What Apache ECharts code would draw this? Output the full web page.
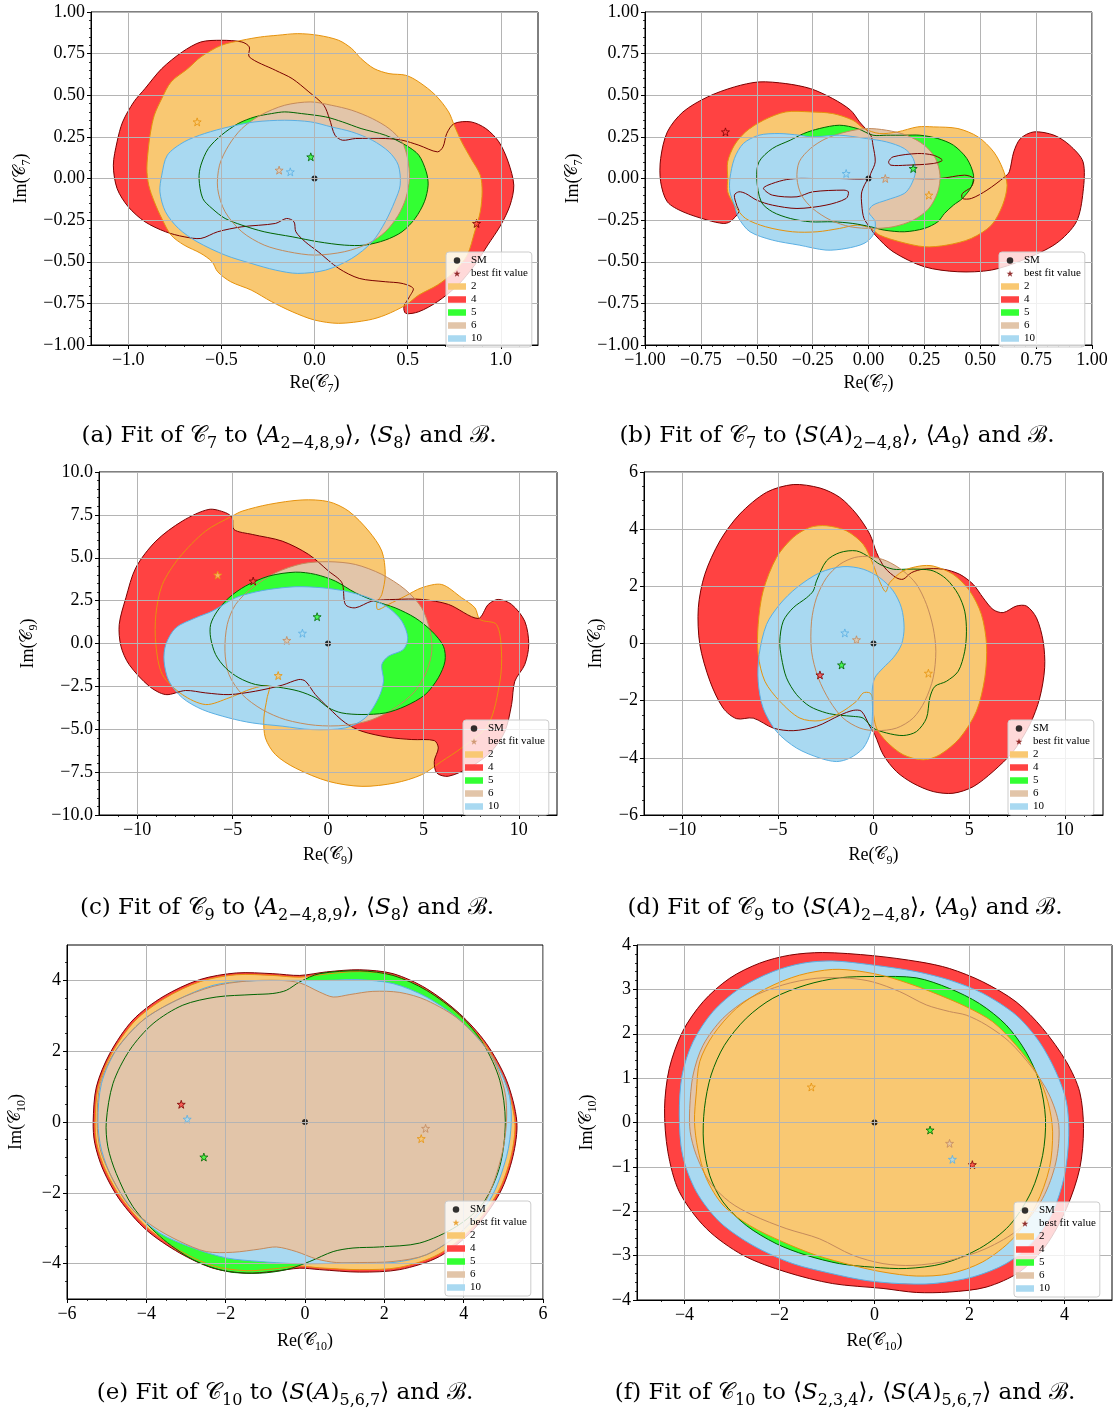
<!DOCTYPE html>
<html>
<head>
<meta charset="utf-8">
<script src="https://cdn.jsdelivr.net/npm/echarts@6/dist/echarts.min.js"></script>
<style>
  html, body { margin: 0; padding: 0; background: #ffffff; }
  #chart { width: 1116px; height: 1414px; }
</style>
</head>
<body>
<div id="chart"></div>
<script>
// ---- Confidence regions (boundary points, [Re, Im]) ----
// Panel (a): C7 fit to <A_{2-4,8,9}>, <S_8> and B
const A2 = [[-0.09,0.87],[0.02,0.86],[0.13,0.83],[0.20,0.78],[0.25,0.72],[0.32,0.66],[0.40,0.63],[0.49,0.62],[0.56,0.58],[0.65,0.50],[0.72,0.40],[0.75,0.32],[0.79,0.22],[0.84,0.12],[0.89,0.02],[0.90,-0.08],[0.89,-0.20],[0.86,-0.32],[0.82,-0.46],[0.75,-0.56],[0.66,-0.64],[0.56,-0.70],[0.49,-0.76],[0.38,-0.82],[0.29,-0.85],[0.13,-0.87],[0.00,-0.85],[-0.12,-0.80],[-0.23,-0.74],[-0.34,-0.67],[-0.45,-0.62],[-0.52,-0.56],[-0.55,-0.50],[-0.61,-0.45],[-0.70,-0.40],[-0.77,-0.34],[-0.82,-0.24],[-0.86,-0.14],[-0.89,-0.04],[-0.90,0.06],[-0.89,0.20],[-0.88,0.28],[-0.86,0.38],[-0.82,0.48],[-0.77,0.58],[-0.68,0.66],[-0.61,0.73],[-0.50,0.80],[-0.39,0.83],[-0.29,0.85],[-0.20,0.86]];
const A4 = [[-0.39,0.82],[-0.35,0.79],[-0.35,0.73],[-0.21,0.65],[-0.12,0.60],[-0.03,0.52],[0.05,0.44],[0.08,0.36],[0.11,0.26],[0.15,0.23],[0.22,0.24],[0.38,0.24],[0.47,0.23],[0.56,0.20],[0.66,0.16],[0.69,0.19],[0.71,0.27],[0.75,0.33],[0.84,0.34],[0.92,0.30],[0.99,0.22],[1.04,0.10],[1.07,-0.04],[1.05,-0.16],[1.00,-0.28],[0.93,-0.40],[0.86,-0.52],[0.77,-0.64],[0.66,-0.74],[0.56,-0.80],[0.49,-0.81],[0.48,-0.77],[0.51,-0.71],[0.53,-0.66],[0.47,-0.63],[0.38,-0.62],[0.24,-0.60],[0.13,-0.54],[0.02,-0.44],[-0.05,-0.38],[-0.10,-0.32],[-0.11,-0.26],[-0.15,-0.24],[-0.21,-0.27],[-0.39,-0.29],[-0.52,-0.32],[-0.61,-0.36],[-0.70,-0.35],[-0.80,-0.32],[-0.91,-0.26],[-1.00,-0.17],[-1.06,-0.06],[-1.08,0.08],[-1.06,0.22],[-1.03,0.34],[-0.97,0.46],[-0.91,0.54],[-0.82,0.66],[-0.71,0.76],[-0.61,0.82],[-0.50,0.83]];
const A5 = [[-0.23,0.39],[-0.16,0.40],[-0.07,0.39],[0.06,0.37],[0.15,0.34],[0.25,0.30],[0.38,0.26],[0.49,0.20],[0.56,0.14],[0.60,0.04],[0.61,-0.04],[0.59,-0.14],[0.54,-0.24],[0.47,-0.32],[0.38,-0.37],[0.27,-0.40],[0.16,-0.40],[0.02,-0.38],[-0.12,-0.35],[-0.27,-0.32],[-0.39,-0.28],[-0.48,-0.24],[-0.55,-0.18],[-0.60,-0.12],[-0.62,0.00],[-0.61,0.08],[-0.57,0.18],[-0.50,0.26],[-0.41,0.33],[-0.32,0.37]];
const A6 = [[-0.02,0.46],[0.09,0.44],[0.20,0.41],[0.31,0.36],[0.40,0.30],[0.47,0.22],[0.50,0.12],[0.51,0.00],[0.49,-0.12],[0.45,-0.22],[0.38,-0.32],[0.29,-0.39],[0.16,-0.44],[0.00,-0.46],[-0.14,-0.44],[-0.27,-0.40],[-0.39,-0.32],[-0.48,-0.20],[-0.52,-0.06],[-0.51,0.08],[-0.46,0.20],[-0.39,0.30],[-0.29,0.38],[-0.16,0.44]];
const A10 = [[-0.16,0.35],[-0.02,0.34],[0.09,0.31],[0.20,0.28],[0.31,0.23],[0.40,0.16],[0.45,0.08],[0.46,-0.04],[0.43,-0.14],[0.38,-0.26],[0.31,-0.38],[0.20,-0.48],[0.06,-0.55],[-0.09,-0.57],[-0.21,-0.55],[-0.34,-0.51],[-0.48,-0.46],[-0.63,-0.38],[-0.73,-0.30],[-0.80,-0.20],[-0.83,-0.08],[-0.82,0.02],[-0.79,0.14],[-0.70,0.22],[-0.59,0.27],[-0.46,0.31],[-0.32,0.34]];
const A_STARS = [['2',-0.63,0.34],['6',-0.19,0.05],['10',-0.13,0.04],['5',-0.02,0.13],['4',0.87,-0.27]];

// Panel (b): C7 fit to <S(A)_{2-4,8}>, <A_9> and B
const B2 = [[-0.63,0.00],[-0.63,0.10],[-0.60,0.20],[-0.55,0.28],[-0.47,0.35],[-0.37,0.40],[-0.26,0.40],[-0.16,0.39],[-0.07,0.35],[-0.02,0.30],[0.05,0.27],[0.13,0.28],[0.22,0.31],[0.29,0.31],[0.40,0.30],[0.49,0.25],[0.56,0.16],[0.60,0.06],[0.62,-0.04],[0.60,-0.16],[0.55,-0.28],[0.46,-0.36],[0.35,-0.40],[0.25,-0.41],[0.14,-0.38],[0.05,-0.34],[0.01,-0.30],[-0.05,-0.28],[-0.13,-0.30],[-0.23,-0.32],[-0.34,-0.32],[-0.46,-0.29],[-0.55,-0.24],[-0.60,-0.16],[-0.63,-0.08]];
const B4_UPPER = [[-0.58,-0.20],[-0.62,-0.26],[-0.65,-0.27],[-0.72,-0.25],[-0.83,-0.20],[-0.90,-0.14],[-0.93,-0.02],[-0.93,0.12],[-0.90,0.28],[-0.83,0.40],[-0.72,0.49],[-0.60,0.55],[-0.49,0.58],[-0.37,0.57],[-0.26,0.54],[-0.16,0.48],[-0.08,0.41],[-0.04,0.34],[0.01,0.26],[0.02,0.20],[0.03,0.10],[0.01,0.03],[0.00,0.00],[-0.13,0.00],[-0.25,0.00],[-0.32,0.00],[-0.38,-0.01],[-0.45,-0.04],[-0.47,-0.06],[-0.43,-0.10],[-0.32,-0.11],[-0.25,-0.08],[-0.11,-0.07],[-0.09,-0.08],[-0.10,-0.12],[-0.19,-0.16],[-0.32,-0.18],[-0.43,-0.16],[-0.50,-0.13],[-0.55,-0.09],[-0.58,-0.08],[-0.60,-0.10],[-0.59,-0.16]];
const B4_LOWER = [[0.00,0.00],[-0.03,-0.08],[-0.03,-0.16],[-0.02,-0.24],[0.01,-0.30],[0.03,-0.34],[0.11,-0.44],[0.25,-0.53],[0.40,-0.56],[0.55,-0.55],[0.69,-0.49],[0.84,-0.39],[0.93,-0.26],[0.96,-0.08],[0.96,0.10],[0.90,0.20],[0.83,0.26],[0.74,0.28],[0.68,0.24],[0.65,0.16],[0.63,0.04],[0.61,0.01],[0.53,-0.07],[0.46,-0.12],[0.42,-0.12],[0.42,-0.09],[0.46,-0.05],[0.47,0.00],[0.43,0.02],[0.32,0.00],[0.17,0.00],[0.02,0.00]];
const B4_LOOP = [[0.09,0.10],[0.11,0.13],[0.22,0.15],[0.29,0.14],[0.33,0.11],[0.29,0.09],[0.17,0.08],[0.10,0.08]];
const B5 = [[-0.50,0.00],[-0.49,0.10],[-0.43,0.18],[-0.35,0.23],[-0.29,0.27],[-0.22,0.30],[-0.13,0.32],[-0.05,0.30],[0.02,0.26],[0.08,0.26],[0.16,0.26],[0.23,0.26],[0.31,0.24],[0.38,0.20],[0.44,0.12],[0.47,0.02],[0.46,-0.05],[0.42,-0.12],[0.38,-0.16],[0.34,-0.21],[0.31,-0.26],[0.25,-0.30],[0.16,-0.32],[0.07,-0.31],[0.01,-0.29],[-0.07,-0.27],[-0.16,-0.26],[-0.26,-0.26],[-0.35,-0.24],[-0.43,-0.20],[-0.48,-0.14]];
const B6 = [[-0.32,0.00],[-0.31,0.10],[-0.26,0.18],[-0.19,0.24],[-0.10,0.28],[-0.01,0.30],[0.08,0.29],[0.17,0.26],[0.25,0.20],[0.30,0.12],[0.32,0.02],[0.31,-0.08],[0.27,-0.18],[0.20,-0.25],[0.11,-0.29],[0.02,-0.30],[-0.08,-0.29],[-0.17,-0.25],[-0.25,-0.18],[-0.30,-0.10]];
const B10 = [[-0.62,0.00],[-0.60,0.12],[-0.56,0.21],[-0.49,0.26],[-0.40,0.27],[-0.31,0.26],[-0.25,0.25],[-0.13,0.26],[-0.01,0.24],[0.08,0.22],[0.16,0.18],[0.20,0.12],[0.21,0.04],[0.19,-0.04],[0.16,-0.09],[0.08,-0.13],[0.02,-0.16],[0.00,-0.20],[0.03,-0.26],[0.02,-0.34],[-0.02,-0.39],[-0.10,-0.42],[-0.19,-0.43],[-0.31,-0.40],[-0.43,-0.37],[-0.53,-0.32],[-0.58,-0.24],[-0.60,-0.16],[-0.62,-0.08]];
const B_STARS = [['4',-0.64,0.28],['10',-0.10,0.03],['6',0.075,0.0],['5',0.20,0.06],['2',0.27,-0.10]];

// Panel (c): C9 fit to <A_{2-4,8,9}>, <S_8> and B
const C2 = [[-5.02,7.43],[-4.49,7.72],[-3.10,8.11],[-1.36,8.37],[0.03,8.27],[1.08,7.72],[2.13,6.56],[2.82,5.39],[3.00,4.03],[2.82,2.86],[2.56,2.37],[2.61,1.98],[3.17,2.28],[4.04,2.76],[4.91,3.25],[5.96,3.44],[7.00,2.67],[7.70,2.08],[7.96,1.40],[8.83,1.11],[9.09,-0.45],[9.01,-2.20],[8.40,-4.73],[7.00,-6.09],[5.96,-6.87],[4.91,-7.65],[3.52,-8.13],[1.78,-8.33],[0.03,-8.04],[-1.71,-7.26],[-2.75,-6.48],[-3.28,-5.51],[-3.36,-4.34],[-3.19,-3.17],[-3.10,-2.49],[-3.97,-2.63],[-5.19,-3.17],[-6.41,-3.56],[-7.63,-2.98],[-8.68,-1.81],[-9.02,-0.06],[-9.02,1.69],[-8.68,3.44],[-7.80,5.00],[-6.41,6.56]];
const C4 = [[-5.02,7.33],[-4.93,6.65],[-3.97,6.36],[-2.40,5.97],[-1.01,5.19],[0.03,4.22],[0.73,3.54],[0.91,2.28],[1.43,2.08],[2.30,2.47],[3.52,2.57],[4.91,2.57],[6.31,2.28],[7.87,1.46],[8.40,2.28],[8.92,2.57],[9.62,2.28],[10.31,1.30],[10.52,-0.06],[10.31,-1.23],[9.79,-2.20],[9.62,-3.56],[9.27,-5.12],[8.57,-6.28],[7.53,-7.16],[6.31,-7.74],[5.70,-7.55],[5.57,-6.87],[5.78,-6.09],[5.57,-5.66],[4.39,-5.60],[3.17,-5.47],[1.78,-5.12],[0.91,-4.63],[0.03,-3.75],[-0.66,-2.98],[-1.18,-2.20],[-1.53,-2.10],[-2.40,-2.43],[-3.80,-2.78],[-5.19,-2.98],[-6.41,-2.88],[-7.46,-2.74],[-8.50,-2.98],[-9.37,-2.49],[-10.42,-1.23],[-10.85,-0.16],[-10.94,1.11],[-10.59,2.67],[-10.07,4.42],[-9.02,5.97],[-7.63,7.14],[-6.24,7.82],[-5.37,7.63]];
const C5 = [[-1.71,4.16],[-0.66,4.03],[0.38,3.64],[1.43,2.96],[2.47,2.47],[3.52,2.08],[4.56,1.50],[5.44,0.72],[6.05,-0.16],[6.13,-1.03],[5.78,-2.00],[5.09,-2.98],[4.04,-3.66],[3.00,-4.05],[1.78,-4.14],[0.73,-4.05],[0.03,-3.75],[-0.66,-3.17],[-1.53,-2.78],[-2.58,-2.55],[-3.80,-2.39],[-4.67,-2.00],[-5.37,-1.42],[-5.89,-0.64],[-6.15,0.33],[-6.15,1.11],[-5.80,1.89],[-5.19,2.67],[-4.32,3.35],[-3.10,3.93]];
const C6 = [[0.03,4.77],[1.43,4.61],[2.82,4.03],[4.04,3.15],[4.91,2.08],[5.35,0.72],[5.44,-0.45],[5.17,-1.61],[4.56,-2.78],[3.52,-3.75],[2.30,-4.44],[0.91,-4.77],[-0.66,-4.77],[-2.23,-4.44],[-3.45,-3.85],[-4.49,-2.98],[-5.19,-1.81],[-5.40,-0.45],[-5.28,1.11],[-4.84,2.28],[-3.97,3.25],[-2.75,4.12],[-1.36,4.65]];
const C10 = [[-3.10,3.15],[-1.71,3.31],[-0.31,3.25],[0.91,3.05],[2.13,2.67],[3.17,2.08],[3.87,1.30],[4.18,0.33],[3.95,-0.35],[3.17,-0.74],[2.82,-1.23],[2.91,-2.20],[2.65,-3.17],[1.95,-4.34],[0.91,-4.92],[-0.84,-5.02],[-2.40,-4.82],[-3.97,-4.63],[-5.19,-4.34],[-6.59,-3.85],[-7.63,-3.17],[-8.33,-2.20],[-8.59,-1.03],[-8.50,-0.06],[-7.98,0.91],[-6.93,1.50],[-6.06,1.89],[-4.84,2.67],[-3.97,2.96]];
const C_STARS = [['2',-5.78,3.99],['4',-3.92,3.64],['5',-0.57,1.56],['10',-1.34,0.60],['6',-2.16,0.18],['2',-2.61,-1.87]];

// Panel (d): C9 fit to <S(A)_{2-4,8}>, <A_9> and B
const D2 = [[-2.46,4.12],[-1.41,3.94],[-0.54,3.47],[-0.02,2.77],[0.24,2.30],[0.63,1.81],[0.85,2.13],[1.55,2.54],[2.42,2.71],[3.12,2.71],[4.16,2.42],[5.03,1.84],[5.64,1.02],[5.91,-0.04],[5.82,-1.20],[5.38,-2.37],[4.51,-3.31],[3.47,-3.89],[2.60,-4.07],[1.55,-3.89],[0.68,-3.43],[0.16,-2.96],[-0.02,-2.37],[-0.05,-1.91],[-0.19,-1.73],[-0.54,-1.73],[-0.89,-2.02],[-1.76,-2.43],[-2.80,-2.70],[-3.85,-2.61],[-4.90,-2.02],[-5.68,-1.32],[-6.03,-0.39],[-6.03,0.67],[-5.77,1.84],[-5.07,3.01],[-4.20,3.71],[-3.33,4.06]];
const D4 = [[-4.20,5.56],[-2.80,5.44],[-1.76,5.11],[-0.89,4.53],[-0.19,3.82],[0.16,3.18],[0.59,2.65],[1.20,2.30],[1.55,2.25],[1.99,2.48],[2.60,2.60],[3.64,2.60],[4.51,2.42],[5.21,2.07],[5.73,1.60],[6.25,1.19],[6.78,1.08],[7.47,1.31],[8.00,1.31],[8.52,0.90],[8.87,0.08],[8.95,-0.85],[8.69,-1.91],[8.17,-2.84],[7.30,-3.78],[6.25,-4.48],[5.21,-5.01],[4.16,-5.24],[3.12,-5.18],[2.07,-4.89],[1.20,-4.48],[0.51,-3.89],[0.07,-3.19],[-0.19,-2.90],[-0.63,-2.37],[-1.06,-2.34],[-1.76,-2.51],[-2.98,-2.90],[-4.20,-3.05],[-5.24,-2.96],[-6.29,-2.61],[-7.16,-2.63],[-7.86,-2.26],[-8.55,-1.32],[-9.08,-0.04],[-9.16,1.25],[-8.82,2.42],[-8.03,3.59],[-6.99,4.53],[-5.59,5.29]];
const D5 = [[-2.98,2.19],[-2.46,2.89],[-1.76,3.18],[-0.89,3.24],[-0.19,3.01],[0.33,2.77],[1.03,2.60],[1.72,2.60],[2.42,2.60],[3.12,2.54],[3.82,2.25],[4.43,1.72],[4.77,1.13],[4.86,0.43],[4.77,-0.27],[4.43,-0.97],[3.82,-1.32],[3.21,-1.50],[2.94,-1.91],[2.77,-2.61],[2.25,-3.08],[1.55,-3.22],[0.68,-3.13],[-0.02,-2.96],[-0.54,-2.61],[-1.06,-2.55],[-1.76,-2.51],[-2.46,-2.43],[-3.33,-2.20],[-4.02,-1.79],[-4.55,-1.20],[-4.81,-0.50],[-4.90,0.08],[-4.72,0.78],[-4.20,1.25],[-3.50,1.60],[-3.15,1.84]];
const D6 = [[-0.19,3.04],[0.68,2.89],[1.55,2.54],[2.25,2.07],[2.77,1.37],[3.12,0.55],[3.26,-0.27],[3.12,-1.20],[2.68,-2.02],[2.07,-2.61],[1.20,-2.96],[0.16,-3.05],[-0.71,-2.96],[-1.59,-2.61],[-2.28,-2.02],[-2.89,-1.20],[-3.24,-0.27],[-3.24,0.78],[-2.98,1.60],[-2.46,2.30],[-1.76,2.77],[-0.98,3.01]];
const D10 = [[-1.59,2.69],[-0.54,2.60],[0.33,2.30],[1.03,1.84],[1.46,1.25],[1.60,0.55],[1.46,-0.04],[1.03,-0.50],[0.51,-0.85],[0.07,-1.20],[-0.07,-1.67],[-0.05,-2.37],[-0.14,-3.08],[-0.54,-3.66],[-1.24,-4.01],[-1.93,-4.13],[-2.80,-4.01],[-4.02,-3.66],[-5.07,-3.08],[-5.77,-2.26],[-6.03,-1.32],[-5.98,-0.39],[-5.59,0.67],[-4.90,1.37],[-4.02,1.95],[-2.80,2.48]];
const D_STARS = [['10',-1.50,0.37],['6',-0.89,0.13],['5',-1.67,-0.75],['4',-2.80,-1.10],['2',2.87,-1.04]];

// Panel (e): C10 fit to <S(A)_{5,6,7}> and B
const E2 = [[-5.29,0.01],[-5.21,1.00],[-4.87,1.94],[-4.29,2.85],[-3.54,3.49],[-2.63,3.97],[-1.73,4.16],[-0.81,4.14],[-0.13,4.09],[0.54,4.18],[1.38,4.25],[2.22,4.14],[3.06,3.72],[3.88,3.02],[4.54,2.19],[5.03,1.17],[5.29,0.01],[5.19,-0.98],[4.86,-1.99],[4.19,-3.01],[3.36,-3.74],[2.37,-4.11],[1.38,-4.17],[0.37,-4.12],[-0.13,-4.07],[-0.81,-4.15],[-1.48,-4.20],[-2.30,-4.07],[-3.13,-3.65],[-3.96,-3.00],[-4.62,-2.17],[-5.04,-1.33],[-5.25,-0.60]];
const E4 = [[-5.34,0.01],[-5.26,0.99],[-4.92,1.94],[-4.34,2.88],[-3.58,3.54],[-2.66,4.02],[-1.73,4.21],[-0.81,4.19],[-0.13,4.14],[0.54,4.24],[1.38,4.30],[2.22,4.19],[3.06,3.77],[3.90,3.06],[4.57,2.22],[5.08,1.18],[5.34,0.01],[5.24,-0.98],[4.91,-2.01],[4.24,-3.05],[3.39,-3.80],[2.39,-4.17],[1.38,-4.24],[0.37,-4.17],[-0.13,-4.13],[-0.81,-4.22],[-1.48,-4.27],[-2.32,-4.13],[-3.16,-3.70],[-4.00,-3.05],[-4.67,-2.20],[-5.09,-1.35],[-5.30,-0.60]];
const E5 = [[-5.01,0.01],[-4.84,1.09],[-4.42,2.03],[-3.83,2.78],[-3.08,3.30],[-2.24,3.53],[-1.31,3.60],[-0.81,3.63],[-0.47,3.72],[-0.13,3.96],[0.37,4.19],[1.38,4.27],[2.22,4.14],[3.06,3.72],[3.90,3.02],[4.49,2.22],[4.91,1.18],[5.05,0.01],[4.91,-1.26],[4.49,-2.29],[3.82,-2.95],[2.89,-3.42],[1.88,-3.53],[1.21,-3.56],[0.71,-3.66],[0.12,-3.94],[-0.47,-4.17],[-1.14,-4.27],[-1.98,-4.22],[-2.82,-3.89],[-3.66,-3.23],[-4.34,-2.39],[-4.76,-1.45],[-4.97,-0.70]];
const E6 = [[-5.24,0.01],[-5.16,1.09],[-4.77,2.03],[-4.08,2.88],[-3.24,3.44],[-2.32,3.83],[-1.48,3.98],[-0.64,4.00],[-0.13,3.93],[0.37,3.67],[0.71,3.53],[1.13,3.60],[1.71,3.69],[2.39,3.66],[3.06,3.44],[3.90,2.88],[4.66,1.94],[5.03,0.90],[5.08,0.01],[4.95,-0.98],[4.57,-2.20],[3.90,-3.14],[3.06,-3.75],[2.22,-3.94],[1.38,-3.97],[0.79,-3.97],[0.29,-3.87],[-0.22,-3.66],[-0.72,-3.53],[-1.14,-3.59],[-1.82,-3.68],[-2.49,-3.66],[-3.16,-3.37],[-3.83,-2.95],[-4.42,-2.39],[-4.88,-1.54],[-5.16,-0.79]];
const E10 = [[-5.22,0.01],[-5.13,1.09],[-4.76,2.03],[-4.08,2.88],[-3.24,3.44],[-2.32,3.86],[-1.48,3.98],[-0.30,4.00],[0.54,4.00],[1.38,4.02],[2.22,3.91],[3.06,3.53],[3.90,2.88],[4.66,1.94],[5.12,0.90],[5.20,0.01],[5.08,-0.98],[4.66,-2.20],[3.90,-3.14],[3.06,-3.75],[2.22,-3.97],[1.21,-3.98],[0.37,-4.00],[-0.30,-4.00],[-1.14,-3.94],[-1.98,-3.84],[-2.82,-3.56],[-3.66,-3.14],[-4.34,-2.48],[-4.84,-1.64],[-5.13,-0.79]];
const E_STARS = [['4',-3.12,0.50],['10',-2.97,0.08],['5',-2.55,-0.99],['6',3.04,-0.18],['2',2.93,-0.47]];

// Panel (f): C10 fit to <S_{2,3,4}>, <S(A)_{5,6,7}> and B
const F2 = [[-3.75,0.69],[-3.68,1.37],[-3.40,1.97],[-2.91,2.57],[-2.28,3.02],[-1.58,3.32],[-0.88,3.45],[-0.32,3.41],[0.25,3.29],[0.81,3.10],[1.37,2.87],[1.93,2.61],[2.49,2.27],[2.98,1.74],[3.40,1.14],[3.65,0.47],[3.75,-0.21],[3.68,-1.04],[3.40,-1.86],[2.91,-2.62],[2.28,-3.14],[1.58,-3.41],[0.88,-3.46],[0.18,-3.37],[-0.46,-3.22],[-1.23,-2.99],[-1.93,-2.69],[-2.63,-2.32],[-3.19,-1.86],[-3.54,-1.26],[-3.72,-0.59],[-3.79,0.02]];
const F4 = [[-1.09,3.83],[-0.04,3.76],[0.95,3.62],[1.58,3.47],[2.28,3.17],[2.98,2.72],[3.54,2.12],[4.04,1.37],[4.32,0.69],[4.40,-0.14],[4.32,-1.04],[4.04,-1.94],[3.61,-2.77],[3.05,-3.37],[2.35,-3.71],[1.58,-3.82],[0.88,-3.83],[0.18,-3.74],[-0.88,-3.63],[-1.86,-3.37],[-2.77,-2.99],[-3.54,-2.39],[-4.11,-1.56],[-4.35,-0.66],[-4.42,0.32],[-4.32,1.22],[-4.04,2.05],[-3.61,2.72],[-3.05,3.25],[-2.42,3.59],[-1.79,3.77]];
const F5 = [[0.00,3.29],[0.88,3.26],[1.58,3.02],[2.21,2.68],[2.77,2.20],[3.19,1.59],[3.47,0.92],[3.60,0.09],[3.54,-0.74],[3.30,-1.56],[2.84,-2.32],[2.21,-2.84],[1.44,-3.18],[0.67,-3.29],[-0.04,-3.26],[-0.74,-3.18],[-1.44,-2.99],[-2.07,-2.73],[-2.70,-2.32],[-3.19,-1.79],[-3.47,-1.19],[-3.60,-0.44],[-3.58,0.32],[-3.44,1.07],[-3.16,1.74],[-2.70,2.35],[-2.14,2.80],[-1.44,3.10],[-0.74,3.26]];
const F6 = [[-3.89,0.32],[-3.82,1.07],[-3.61,1.74],[-3.19,2.35],[-2.63,2.80],[-1.93,3.10],[-1.23,3.25],[-0.53,3.25],[-0.04,3.17],[0.53,2.95],[1.09,2.65],[1.58,2.50],[1.93,2.42],[2.35,2.20],[2.84,1.82],[3.33,1.22],[3.68,0.62],[3.88,-0.06],[3.82,-0.89],[3.54,-1.71],[3.05,-2.39],[2.35,-2.84],[1.58,-3.11],[0.81,-3.22],[0.18,-3.18],[-0.46,-2.99],[-1.16,-2.62],[-1.86,-2.39],[-2.56,-2.09],[-3.05,-1.79],[-3.47,-1.34],[-3.75,-0.74],[-3.88,-0.21]];
const F10 = [[-0.88,3.64],[-0.04,3.55],[0.88,3.40],[1.58,3.21],[2.28,2.91],[2.98,2.42],[3.47,1.82],[3.82,1.14],[4.04,0.47],[4.09,-0.29],[4.00,-1.19],[3.75,-2.02],[3.33,-2.69],[2.77,-3.18],[2.07,-3.48],[1.23,-3.63],[0.53,-3.63],[-0.18,-3.56],[-0.88,-3.41],[-1.72,-3.18],[-2.56,-2.77],[-3.26,-2.24],[-3.75,-1.56],[-4.04,-0.74],[-4.11,0.17],[-4.05,1.07],[-3.82,1.82],[-3.40,2.50],[-2.84,3.02],[-2.14,3.40],[-1.51,3.59]];
const F_STARS = [['2',-1.33,0.80],['5',1.17,-0.17],['6',1.58,-0.47],['10',1.64,-0.83],['4',2.06,-0.95]];

// ---- Tick labels ----
const A_XTICKS = [-1.0, -0.5, 0.0, 0.5, 1.0];
const A_YTICKS = [-1.0, -0.75, -0.5, -0.25, 0.0, 0.25, 0.5, 0.75, 1.0];
const B_XTICKS = [-1.0, -0.75, -0.5, -0.25, 0.0, 0.25, 0.5, 0.75, 1.0];
const B_YTICKS = [-1.0, -0.75, -0.5, -0.25, 0.0, 0.25, 0.5, 0.75, 1.0];
const C_XTICKS = [-10, -5, 0, 5, 10];
const C_YTICKS = [-10, -7.5, -5, -2.5, 0, 2.5, 5, 7.5, 10];
const D_XTICKS = [-10, -5, 0, 5, 10];
const D_YTICKS = [-6, -4, -2, 0, 2, 4, 6];
const E_XTICKS = [-6, -4, -2, 0, 2, 4, 6];
const E_YTICKS = [-4, -2, 0, 2, 4];
const F_XTICKS = [-4, -2, 0, 2, 4];
const F_YTICKS = [-4, -3, -2, -1, 0, 1, 2, 3, 4];

// Standard-model point
const SM_POINT = [0, 0];

// ---- Styling ----
const LEVELS = ['2', '4', '5', '6', '10'];
const FILL = { '2': '#F9C872', '4': '#FF4242', '5': '#33FF33', '6': '#E2C5A9', '10': '#A9D9F1' };
const EDGE = { '2': '#E6920C', '4': '#7A0000', '5': '#006400', '6': '#C48A5C', '10': '#5AAFE3' };
const SERIF = 'Liberation Serif';
const CAPFONT = 'DejaVu Serif';
const STAR = 'path://M0,-10L2.35,-3.24L9.51,-3.09L3.8,1.24L5.88,8.09L0,4L-5.88,8.09L-3.8,1.24L-9.51,-3.09L-2.35,-3.24Z';

const NAME_RICH = {
  r: { fontFamily: SERIF, fontSize: 18, lineHeight: 24, color: '#000' },
  c: { fontFamily: CAPFONT, fontSize: 17, lineHeight: 24, color: '#000' },
  s: { fontFamily: SERIF, fontSize: 12, lineHeight: 12, verticalAlign: 'bottom', color: '#000' }
};
const CAP_RICH = {
  n: { fontFamily: CAPFONT, fontSize: 23, lineHeight: 32, color: '#000' },
  i: { fontFamily: CAPFONT, fontSize: 23, lineHeight: 32, fontStyle: 'italic', color: '#000' },
  c: { fontFamily: CAPFONT, fontSize: 23, lineHeight: 32, color: '#000' },
  s: { fontFamily: CAPFONT, fontSize: 16, lineHeight: 16, verticalAlign: 'bottom', color: '#000' }
};

const CAPTIONS = [
  '{n|(a) Fit of }{c|𝒞}{s|7}{n| to ⟨}{i|A}{s|2−4,8,9}{n|⟩, ⟨}{i|S}{s|8}{n|⟩ and }{c|ℬ}{n|.}',
  '{n|(b) Fit of }{c|𝒞}{s|7}{n| to ⟨}{i|S}{n|(}{i|A}{n|)}{s|2−4,8}{n|⟩, ⟨}{i|A}{s|9}{n|⟩ and }{c|ℬ}{n|.}',
  '{n|(c) Fit of }{c|𝒞}{s|9}{n| to ⟨}{i|A}{s|2−4,8,9}{n|⟩, ⟨}{i|S}{s|8}{n|⟩ and }{c|ℬ}{n|.}',
  '{n|(d) Fit of }{c|𝒞}{s|9}{n| to ⟨}{i|S}{n|(}{i|A}{n|)}{s|2−4,8}{n|⟩, ⟨}{i|A}{s|9}{n|⟩ and }{c|ℬ}{n|.}',
  '{n|(e) Fit of }{c|𝒞}{s|10}{n| to ⟨}{i|S}{n|(}{i|A}{n|)}{s|5,6,7}{n|⟩ and }{c|ℬ}{n|.}',
  '{n|(f) Fit of }{c|𝒞}{s|10}{n| to ⟨}{i|S}{s|2,3,4}{n|⟩, ⟨}{i|S}{n|(}{i|A}{n|)}{s|5,6,7}{n|⟩ and }{c|ℬ}{n|.}'
];

// Panel layout: plot box, axes, regions in drawing order (bottom first)
const PANELS = [
  { box: [91, 12, 447, 333], sub: '7',
    x: { min: -1.2, max: 1.2, ticks: A_XTICKS, dec: 1, minor: 5, gap: 26 },
    y: { min: -1, max: 1, interval: 0.25, ticks: A_YTICKS, dec: 2, minor: 5, gap: 58 },
    regions: [['4', [A4]], ['2', [A2]], ['5', [A5]], ['6', [A6]], ['10', [A10]]],
    lines: [], stars: A_STARS, legend: [446, 252], starLegend: '4', caption: [289, 436] },
  { box: [645, 12, 447, 333], sub: '7',
    x: { min: -1, max: 1, interval: 0.25, ticks: B_XTICKS, dec: 2, minor: 5, gap: 26 },
    y: { min: -1, max: 1, interval: 0.25, ticks: B_YTICKS, dec: 2, minor: 5, gap: 60 },
    regions: [['4', [B4_UPPER, B4_LOWER]], ['2', [B2]], ['5', [B5]], ['6', [B6]], ['10', [B10]]],
    lines: [['4', B4_LOOP]], stars: B_STARS, legend: [999, 252], starLegend: '4', caption: [837, 436] },
  { box: [99, 472, 458, 343], sub: '9',
    x: { min: -12, max: 12, ticks: C_XTICKS, dec: 0, minor: 5, gap: 28 },
    y: { min: -10, max: 10, interval: 2.5, ticks: C_YTICKS, dec: 1, minor: 5, gap: 59 },
    regions: [['2', [C2]], ['4', [C4]], ['6', [C6]], ['5', [C5]], ['10', [C10]]],
    lines: [], stars: C_STARS, legend: [463, 720], starLegend: '6', caption: [287, 908] },
  { box: [644, 472, 459, 343], sub: '9',
    x: { min: -12, max: 12, ticks: D_XTICKS, dec: 0, minor: 5, gap: 28 },
    y: { min: -6, max: 6, interval: 2, ticks: D_YTICKS, dec: 0, minor: 4, gap: 36 },
    regions: [['4', [D4]], ['5', [D5]], ['6', [D6]], ['2', [D2]], ['10', [D10]]],
    lines: [], stars: D_STARS, legend: [1008, 720], starLegend: '4', caption: [845, 908] },
  { box: [67, 945, 476, 354], sub: '10',
    x: { min: -6, max: 6, interval: 2, ticks: E_XTICKS, dec: 0, minor: 4, gap: 30 },
    y: { min: -5, max: 5, ticks: E_YTICKS, dec: 0, minor: 4, gap: 39 },
    regions: [['4', [E4]], ['2', [E2]], ['5', [E5]], ['10', [E10]], ['6', [E6]]],
    lines: [], stars: E_STARS, legend: [445, 1201], starLegend: '2', caption: [285, 1393] },
  { box: [637, 945, 475, 355], sub: '10',
    x: { min: -5, max: 5, ticks: F_XTICKS, dec: 0, minor: 4, gap: 29 },
    y: { min: -4, max: 4, interval: 1, ticks: F_YTICKS, dec: 0, minor: 5, gap: 38 },
    regions: [['4', [F4]], ['10', [F10]], ['5', [F5]], ['6', [F6]], ['2', [F2]]],
    lines: [], stars: F_STARS, legend: [1014, 1202], starLegend: '4', caption: [845, 1393] }
];

// Layer order: filled regions 1..5, boundary lines 6, markers 7, grid/axes 8, legend 10
const Z_EDGE = 6, Z_MARK = 7, Z_AXIS = 8, Z_TOP = 10;

function fmt(v, dec) {
  const s = Math.abs(v).toFixed(dec);
  return (v < -1e-9 ? '\u2212' : '') + s;
}

function makeAxis(gi, spec, isX, sub) {
  const o = {
    type: 'value', gridIndex: gi, min: spec.min, max: spec.max, z: Z_AXIS,
    axisLine: { show: true, onZero: false, lineStyle: { color: '#000', width: 1 } },
    axisTick: { show: true, inside: false, length: 4, lineStyle: { color: '#000', width: 1 }, customValues: spec.ticks },
    minorTick: { show: true, splitNumber: spec.minor, length: 2, lineStyle: { color: '#000', width: 0.8 } },
    axisLabel: { show: true, customValues: spec.ticks, formatter: v => fmt(v, spec.dec),
                 fontFamily: SERIF, fontSize: 18, color: '#000', margin: 6 },
    splitLine: { show: true, lineStyle: { color: '#b4b4b4', width: 1 } },
    minorSplitLine: { show: false },
    name: (isX ? '{r|Re(}' : '{r|Im(}') + '{c|𝒞}{s|' + sub + '}{r|)}',
    nameLocation: 'middle', nameGap: spec.gap, nameRotate: isX ? 0 : 90,
    nameTextStyle: { rich: NAME_RICH }
  };
  if (spec.interval) o.interval = spec.interval;
  return o;
}

function regionSeries(gi, lvl, pts, z, filled) {
  return {
    type: 'custom', name: filled ? lvl : '_edge', coordinateSystem: 'cartesian2d',
    xAxisIndex: gi, yAxisIndex: gi, z: z, silent: true,
    data: [SM_POINT],
    renderItem: function (params, api) {
      return {
        type: 'polygon',
        shape: { points: pts.map(p => api.coord(p)), smooth: 0.3 },
        style: filled ? { fill: FILL[lvl], stroke: 'rgba(0,0,0,0)', lineWidth: 0 }
                      : { fill: 'rgba(0,0,0,0)', stroke: EDGE[lvl], lineWidth: 1 }
      };
    }
  };
}

const grids = [], xAxes = [], yAxes = [], series = [], legends = [], graphics = [];

PANELS.forEach((p, gi) => {
  grids.push({ left: p.box[0], top: p.box[1], width: p.box[2], height: p.box[3],
               show: true, borderColor: '#000', borderWidth: 1, backgroundColor: 'transparent',
               containLabel: false, outerBoundsMode: 'none' });
  xAxes.push(makeAxis(gi, p.x, true, p.sub));
  yAxes.push(makeAxis(gi, p.y, false, p.sub));

  p.regions.forEach(([lvl, polys], k) => {
    polys.forEach(poly => series.push(regionSeries(gi, lvl, poly, 1 + k, true)));
  });
  p.regions.forEach(([lvl, polys]) => {
    polys.forEach(poly => series.push(regionSeries(gi, lvl, poly, Z_EDGE, false)));
  });
  p.lines.forEach(([lvl, poly]) => series.push(regionSeries(gi, lvl, poly, Z_EDGE, false)));

  series.push({
    type: 'scatter', name: 'best fit value', xAxisIndex: gi, yAxisIndex: gi, z: Z_MARK, silent: true,
    symbol: STAR, symbolSize: 8,
    data: p.stars.map(([lvl, x, y]) => ({
      value: [x, y], itemStyle: { color: FILL[lvl], borderColor: EDGE[lvl], borderWidth: 1 }
    }))
  });
  series.push({
    type: 'scatter', name: 'SM', xAxisIndex: gi, yAxisIndex: gi, z: Z_MARK, silent: true,
    symbol: 'circle', symbolSize: 6, itemStyle: { color: '#000' }, data: [SM_POINT]
  });

  legends.push({
    left: p.legend[0], top: p.legend[1], orient: 'vertical', z: Z_TOP, selectedMode: false,
    itemWidth: 18, itemHeight: 6.5, itemGap: 2, padding: [3, 4, 3, 2],
    backgroundColor: 'rgba(255,255,255,0.8)', borderColor: '#cccccc', borderWidth: 1, borderRadius: 3,
    textStyle: { fontFamily: SERIF, fontSize: 11, lineHeight: 10, color: '#000' },
    data: [
      { name: 'SM', icon: 'circle', itemStyle: { color: '#000', borderWidth: 0 } },
      { name: 'best fit value', icon: STAR, itemStyle: { color: EDGE[p.starLegend], borderWidth: 0 } }
    ].concat(LEVELS.map(l => ({ name: l, icon: 'rect', itemStyle: { color: FILL[l], borderWidth: 0 } })))
  });

  graphics.push({
    type: 'text', x: p.caption[0], y: p.caption[1], z: Z_TOP,
    style: { text: CAPTIONS[gi], rich: CAP_RICH, align: 'center', verticalAlign: 'middle' }
  });
});

const chart = echarts.init(document.getElementById('chart'), null, { renderer: 'canvas' });
chart.setOption({
  animation: false,
  backgroundColor: '#ffffff',
  grid: grids,
  xAxis: xAxes,
  yAxis: yAxes,
  legend: legends,
  graphic: graphics,
  series: series
});
</script>
</body>
</html>
